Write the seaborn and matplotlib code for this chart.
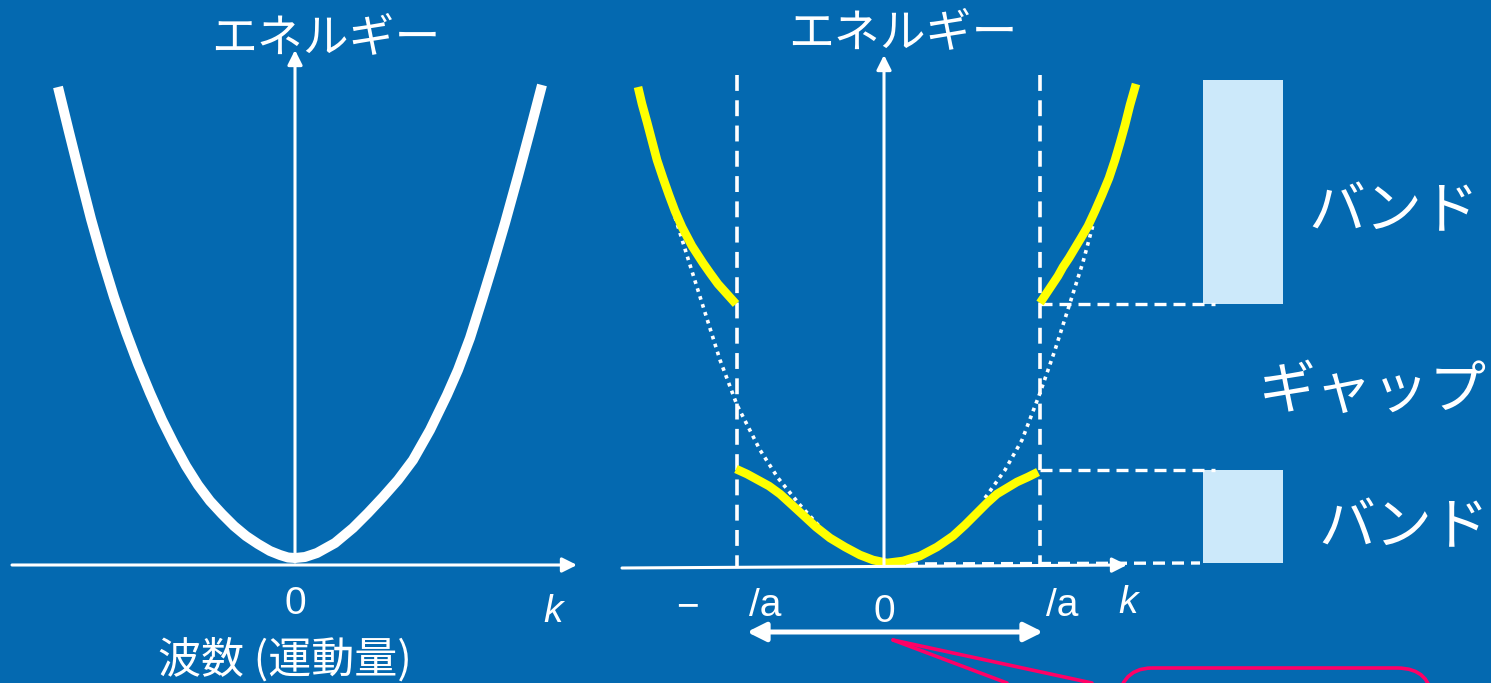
import numpy as np
import pandas as pd
import seaborn as sns
from matplotlib import pyplot as plt
from matplotlib.patches import Rectangle, FancyBboxPatch

# curve points (pixel coordinates, y downwards)
free_left_x = [58, 69, 80, 91, 102, 114, 126, 138, 150, 162, 174, 186, 198, 210,
               222, 234, 246, 258, 270, 280, 288, 295]
free_left_y = [87, 132, 176, 219, 258, 297, 332, 364, 393, 420, 444, 466, 485, 501,
               514, 526, 536, 544, 551, 555, 557.5, 558]
free_right_x = [295, 305, 317, 335, 353, 368, 383, 398, 413, 430, 447, 458, 470, 482,
                493, 505, 518, 530, 542]
free_right_y = [558, 557, 553, 543, 528, 513, 497, 480, 460, 430, 395, 370, 338, 300,
                264, 223, 176, 131, 85]

band_upper_left_x = [638, 642, 647, 652, 657, 663, 669, 675, 682, 692, 703, 710, 718, 727, 736]
band_upper_left_y = [87, 104, 122, 141, 160, 178, 195, 211, 227, 246, 263, 273, 284, 294, 304]
band_upper_right_x = [1040, 1046, 1052, 1058, 1063, 1069, 1075, 1081, 1088, 1095, 1102,
                      1109, 1115, 1120, 1125, 1130, 1136]
band_upper_right_y = [303, 294, 285, 276, 267, 258, 248, 238, 226, 211, 195,
                      178, 160, 143, 125, 105, 84]
band_lower_x = [736, 747, 758, 769, 780, 791, 803, 816, 830, 845, 860, 873, 887,
                903, 920, 937, 953, 965, 977, 987, 997, 1007, 1017, 1028, 1038]
band_lower_y = [469, 474, 480, 486, 494, 504, 515, 527, 538, 547, 555, 560, 563,
                561, 556, 547, 536, 525, 513, 503, 494, 488, 482, 477, 472]

dot_left_x = [675, 690, 702, 720, 737, 760, 778, 800, 820]
dot_left_y = [217, 265, 303, 360, 405, 450, 478, 505, 527]
dot_right_x = [985, 1005, 1022, 1040, 1055, 1070, 1083, 1093]
dot_right_y = [498, 470, 440, 393, 350, 303, 262, 225]

band_top = [80, 470]
band_bottom = [304, 563]
band_labels = ["バンド", "ギャップ", "バンド"]

BG = "#0469B0"
YELLOW = "#FFFF00"
PINK = "#FF0066"
BOX = "#CCE9FA"
JP = ["Noto Sans CJK JP", "DejaVu Sans"]
LAT = ["Liberation Sans", "Noto Sans CJK JP"]

sns.set_theme(style="white")
plt.rcParams["font.family"] = JP

fig = plt.figure(figsize=(14.91, 6.83), dpi=100, facecolor=BG)
ax = fig.add_axes([0, 0, 1, 1])
ax.set_facecolor(BG)
ax.set_xlim(0, 1491)
ax.set_ylim(683, 0)
ax.axis("off")


def curve(x, y, **kw):
    sns.lineplot(x=x, y=y, sort=False, estimator=None, ax=ax, **kw)


def arrow(x0, y0, x1, y1, lw=2.2, style="-|>", ms=22):
    ax.annotate("", xy=(x1, y1), xytext=(x0, y0),
                arrowprops=dict(arrowstyle=style, color="white", lw=lw,
                                mutation_scale=ms, shrinkA=0, shrinkB=0))


# ---- left panel: free electron ----
arrow(12, 565, 577, 565)
arrow(295, 562, 295, 50)
curve(free_left_x, free_left_y, color="white", linewidth=7.2,
      solid_capstyle="butt", solid_joinstyle="round")
curve(free_right_x, free_right_y, color="white", linewidth=7.2,
      solid_capstyle="butt", solid_joinstyle="round")

ax.text(326, 38, "エネルギー", color="white", fontsize=33, ha="center", va="center")
ax.text(295, 604, "0", color="white", fontsize=28, ha="center", va="center", family=LAT)
ax.text(553, 612, "k", color="white", fontsize=28, ha="center", va="center",
        family=LAT, style="italic")
ax.text(285, 660, "波数 (運動量)", color="white", fontsize=31, ha="center", va="center")

# ---- right panel: nearly free electron ----
dash_v = (0, (4.4, 2.6))
dash_h = (0, (3.6, 2.1))
ax.plot([737, 737], [75, 568], color="white", lw=2.6, ls=dash_v)
ax.plot([1040, 1040], [75, 565], color="white", lw=2.6, ls=dash_v)
for yb in [band_bottom[0], band_top[1]]:
    ax.plot([1040, 1215], [yb, yb], color="white", lw=2.4, ls=dash_h)
ax.plot([887, 1200], [564, 563], color="white", lw=2.4, ls=dash_h)

arrow(622, 568, 1127, 565)
arrow(884, 566, 884, 55)

curve(dot_left_x, dot_left_y, color="white", linewidth=2.6, ls=(0, (1, 1.3)),
      dash_capstyle="butt")
curve(dot_right_x, dot_right_y, color="white", linewidth=2.6, ls=(0, (1, 1.3)),
      dash_capstyle="butt")

for bx, by in [(band_upper_left_x, band_upper_left_y),
               (band_upper_right_x, band_upper_right_y),
               (band_lower_x, band_lower_y)]:
    curve(bx, by, color=YELLOW, linewidth=6.2, solid_capstyle="butt",
          solid_joinstyle="round")

ax.text(903, 33, "エネルギー", color="white", fontsize=33, ha="center", va="center")
ax.text(687, 607, "−", color="white", fontsize=28, ha="center", va="center", family=LAT)
ax.text(765, 606, "/a", color="white", fontsize=28, ha="center", va="center", family=LAT)
ax.text(884, 612, "0", color="white", fontsize=28, ha="center", va="center", family=LAT)
ax.text(1062, 606, "/a", color="white", fontsize=28, ha="center", va="center", family=LAT)
ax.text(1128, 603, "k", color="white", fontsize=28, ha="center", va="center",
        family=LAT, style="italic")

arrow(747, 632, 1043, 632, lw=3.6, style="<|-|>", ms=28)

# band boxes and labels
for t, b in zip(band_top, band_bottom):
    ax.add_patch(Rectangle((1203, t), 80, b - t, color=BOX, lw=0))
label_pos = [(1394, 212), (1373, 392), (1404, 528)]
for (lx, ly), lab in zip(label_pos, band_labels):
    ax.text(lx, ly, lab, color="white", fontsize=41, ha="center", va="center")

# pink callout
ax.plot([893, 1007], [640, 683], color=PINK, lw=2.6)
ax.plot([893, 1092], [640, 683], color=PINK, lw=2.6)
ax.add_patch(FancyBboxPatch((1117, 668), 315, 80,
                            boxstyle="round,pad=0,rounding_size=35",
                            fill=False, edgecolor=PINK, lw=2.6))

fig.savefig("out.png", dpi=100, facecolor=BG)
